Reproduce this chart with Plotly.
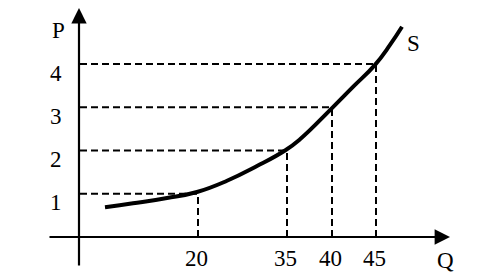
import plotly.graph_objects as go

# Data
p_levels = [1, 2, 3, 4]
q_labels = ["20", "35", "40", "45"]
# drawn positions of the Q ticks along the (not-to-scale) horizontal axis
q_pos = [198, 287, 332, 376]

# supply curve S (horizontal drawing position, price P)
curve_x = [105, 133, 167, 197, 227, 257, 285, 300, 332, 353, 375, 390, 402]
curve_p = [0.69, 0.78, 0.90, 1.04, 1.30, 1.64, 2.00, 2.26, 2.98, 3.47, 3.98, 4.44, 4.86]

PX_PER_P = 43.25
Y0_PIX = 237
H = 273
yr = [-(H - Y0_PIX) / PX_PER_P, Y0_PIX / PX_PER_P]

def py(pix):
    return (Y0_PIX - pix) / PX_PER_P

FONT = "Liberation Serif"
fig = go.Figure()

fig.add_trace(go.Scatter(x=curve_x, y=curve_p, mode="lines",
                         line=dict(color="black", width=4, shape="spline",
                                   smoothing=1.3, simplify=False),
                         hoverinfo="skip", showlegend=False))

dash = "7px,4px"
for q, p in zip(q_pos, p_levels):
    fig.add_shape(type="line", x0=80, x1=q, y0=p, y1=p, xref="x", yref="y",
                  line=dict(color="black", width=2, dash=dash), layer="below")
    fig.add_shape(type="line", x0=q, x1=q, y0=0, y1=p, xref="x", yref="y",
                  line=dict(color="black", width=2, dash=dash), layer="below")

# axes with arrows
fig.add_annotation(x=79, y=py(8), ax=79, ay=py(267), xref="x", yref="y",
                   axref="x", ayref="y", text="", showarrow=True,
                   arrowhead=2, arrowsize=1.4, arrowwidth=2.2, arrowcolor="black")
fig.add_annotation(x=450, y=0, ax=48, ay=0, xref="x", yref="y",
                   axref="x", ayref="y", text="", showarrow=True,
                   arrowhead=2, arrowsize=1.4, arrowwidth=2.2, arrowcolor="black")

tf = dict(family=FONT, size=23, color="black")
for p in p_levels:
    fig.add_annotation(x=56, y=p, yshift=-9, text=str(p), showarrow=False, font=tf,
                       xanchor="center", yanchor="middle")
for q, lab in zip(q_pos, q_labels):
    fig.add_annotation(x=q, xshift=-2, y=py(258), text=lab, showarrow=False, font=tf,
                       xanchor="center", yanchor="middle")

fig.add_annotation(x=58, y=py(30), text="P", showarrow=False, font=tf)
fig.add_annotation(x=413, y=py(43), text="S", showarrow=False, font=tf)
fig.add_annotation(x=445, y=py(260), text="Q", showarrow=False, font=tf)

fig.update_xaxes(range=[0, 500], visible=False, fixedrange=True)
fig.update_yaxes(range=yr, visible=False, fixedrange=True)
fig.update_layout(width=500, height=273, margin=dict(l=0, r=0, t=0, b=0),
                  paper_bgcolor="white", plot_bgcolor="white", showlegend=False)

fig.write_html("out.html")
